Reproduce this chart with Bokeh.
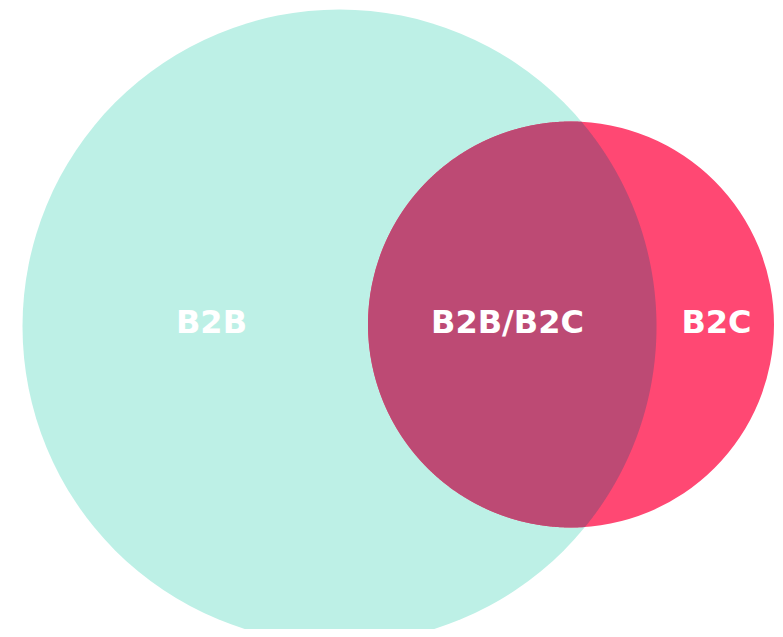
import numpy as np
from bokeh.plotting import figure
from bokeh.models import Range1d
from bokeh.core.properties import value
from bokeh.embed import file_html
from bokeh.resources import INLINE

# Data
set_labels = ["B2B", "B2C"]
overlap_label = "B2B/B2C"
set_radius = [317, 203]          # relative circle sizes
set_colors = ["#bdf0e6", "#ff4873"]
overlap_color = "#bd4a74"

# Layout (screen-like coordinates)
cx = [339, 570.5]
cy = [326, 324]

W, H = 775, 629
p = figure(width=W, height=H, output_backend="svg", toolbar_location=None,
           x_range=Range1d(0, W), y_range=Range1d(H, 0),
           min_border=0, outline_line_color=None)
p.axis.visible = False
p.grid.visible = False

for i in range(2):
    p.circle(x=[cx[i]], y=[cy[i]], radius=set_radius[i], fill_color=set_colors[i],
             line_color=None)

# lens (intersection) polygon computed from the two circles
def arc_points(c_x, c_y, r, other_x, other_y, other_r):
    t = np.linspace(0, 2 * np.pi, 3000)
    xs = c_x + r * np.cos(t)
    ys = c_y + r * np.sin(t)
    inside = (xs - other_x) ** 2 + (ys - other_y) ** 2 <= other_r ** 2
    return xs[inside], ys[inside]

x1, y1 = arc_points(cx[0], cy[0], set_radius[0], cx[1], cy[1], set_radius[1])
x2, y2 = arc_points(cx[1], cy[1], set_radius[1], cx[0], cy[0], set_radius[0])
ax = np.concatenate([x1, x2]); ay = np.concatenate([y1, y2])
mx, my = ax.mean(), ay.mean()
order = np.argsort(np.arctan2(ay - my, ax - mx))
p.patch(ax[order], ay[order], fill_color=overlap_color, line_color=None)

labels = [set_labels[0], overlap_label, set_labels[1]]
lx = [211, 507, 716]
ly = [321, 321, 321]
p.text(x=lx, y=ly, text=labels, text_color="white", text_font=value("DejaVu Sans"),
       text_font_style="bold", text_font_size="32px", text_align="center",
       text_baseline="middle")

open("out.html", "w").write(file_html(p, INLINE))
